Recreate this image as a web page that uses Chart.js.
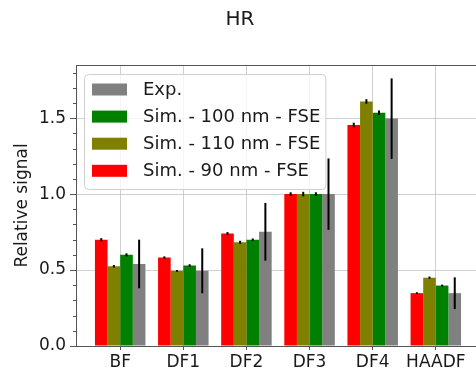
<!DOCTYPE html>
<html>
<head>
<meta charset="utf-8">
<script src="https://cdn.jsdelivr.net/npm/chart.js@4.4.1/dist/chart.umd.min.js"></script>
<style>
  html, body { margin: 0; padding: 0; background: #fff; overflow: hidden; }
</style>
</head>
<body>
<canvas id="chart" width="488" height="374"></canvas>
<script>
// data
const categories = ['BF', 'DF1', 'DF2', 'DF3', 'DF4', 'HAADF'];
const sim90  = [0.700, 0.582, 0.740, 1.000, 1.455, 0.348];
const sim110 = [0.525, 0.495, 0.683, 1.000, 1.610, 0.450];
const sim100 = [0.600, 0.530, 0.700, 1.000, 1.536, 0.398];
const expVals = [0.540, 0.495, 0.752, 1.000, 1.497, 0.348];
const err90  = [0.010, 0.008, 0.010, 0.012, 0.015, 0.006];
const err110 = [0.008, 0.006, 0.010, 0.015, 0.015, 0.007];
const err100 = [0.010, 0.008, 0.008, 0.012, 0.015, 0.006];
const errExp = [0.160, 0.148, 0.190, 0.235, 0.265, 0.104];
const yTicks = [0, 0.5, 1.0, 1.5];

const yMinor = [];
for (let i = 1; i <= 18; i++) if (i % 5 !== 0) yMinor.push(i / 10);

Chart.defaults.font.family = "'DejaVu Sans', sans-serif";
Chart.defaults.color = '#1a1a1a';

const toPts = arr => arr.map((v, i) => ({ x: i, y: v }));

const series = [
  { label: 'Sim. - 90 nm - FSE',  data: sim90,  err: err90,  color: '#ff0000' },
  { label: 'Sim. - 110 nm - FSE', data: sim110, err: err110, color: '#808000' },
  { label: 'Sim. - 100 nm - FSE', data: sim100, err: err100, color: '#008000' },
  { label: 'Exp.',                data: expVals, err: errExp, color: '#808080' }
];

const gridColor = 'rgba(176,176,176,0.6)';
const spineColor = '#555';

// error bars, top spine, minor ticks and the in-axes legend
const extras = {
  id: 'extras',
  afterDraw(chart) {
    const { ctx, chartArea: a, scales: { y } } = chart;
    ctx.save();

    // top spine
    ctx.strokeStyle = spineColor;
    ctx.lineWidth = 1;
    ctx.beginPath();
    ctx.moveTo(a.left, a.top + 0.5);
    ctx.lineTo(a.right, a.top + 0.5);
    ctx.stroke();

    // minor ticks
    ctx.beginPath();
    yMinor.forEach(v => {
      const py = Math.round(y.getPixelForValue(v)) + 0.5;
      ctx.moveTo(a.left - 3, py);
      ctx.lineTo(a.left, py);
    });
    ctx.stroke();

    // error bars
    ctx.strokeStyle = '#000';
    ctx.lineWidth = 2;
    series.forEach((s, di) => {
      chart.getDatasetMeta(di).data.forEach((bar, i) => {
        ctx.beginPath();
        ctx.moveTo(bar.x, y.getPixelForValue(s.data[i] + s.err[i]));
        ctx.lineTo(bar.x, y.getPixelForValue(s.data[i] - s.err[i]));
        ctx.stroke();
      });
    });

    // legend (reverse order, like the reference)
    const items = series.slice().reverse();
    ctx.font = "18px 'DejaVu Sans'";
    const textW = Math.max(...items.map(s => ctx.measureText(s.label).width));
    const bx = a.left + 8, by = a.top + 9;
    const bw = 59 + textW + 5, bh = 115;
    ctx.beginPath();
    ctx.roundRect(bx + 0.5, by + 0.5, bw, bh, 4);
    ctx.fillStyle = 'rgba(255,255,255,0.8)';
    ctx.fill();
    ctx.strokeStyle = '#d0d0d0';
    ctx.lineWidth = 1;
    ctx.stroke();
    ctx.textBaseline = 'middle';
    ctx.textAlign = 'left';
    items.forEach((s, k) => {
      const cy = by + 15.5 + k * 27.1;
      ctx.fillStyle = s.color;
      ctx.fillRect(bx + 8, cy - 6, 35, 12);
      ctx.fillStyle = '#1a1a1a';
      ctx.fillText(s.label, bx + 59, cy + 1);
    });

    ctx.restore();
  }
};

new Chart(document.getElementById('chart'), {
  type: 'bar',
  data: {
    datasets: series.map(s => ({
      label: s.label,
      data: toPts(s.data),
      backgroundColor: s.color,
      borderWidth: 0,
      barPercentage: 1.0,
      categoryPercentage: 0.8
    }))
  },
  options: {
    responsive: false,
    devicePixelRatio: 1,
    animation: false,
    events: [],
    layout: { padding: { left: 0, right: 8, top: 0, bottom: 0 } },
    plugins: {
      legend: { display: false },
      tooltip: { enabled: false },
      title: {
        display: true,
        text: 'HR',
        font: { size: 20, weight: 'normal' },
        color: '#1a1a1a',
        padding: { top: 8, bottom: 33 }
      }
    },
    scales: {
      x: {
        type: 'linear',
        min: -0.7,
        max: 5.7,
        offset: false,
        z: 1,
        afterBuildTicks: s => { s.ticks = categories.map((c, i) => ({ value: i })); },
        afterFit: s => { s.height = 28; },
        ticks: {
          callback: v => categories[v] ?? '',
          autoSkip: false,
          maxRotation: 0,
          padding: 2,
          font: { size: 17 },
          color: '#1a1a1a'
        },
        grid: { offset: false, color: gridColor, tickColor: spineColor, tickLength: 4 },
        border: { color: spineColor, width: 1 }
      },
      y: {
        min: 0,
        max: 1.85,
        z: 1,
        afterBuildTicks: s => { s.ticks = yTicks.map(v => ({ value: v })); },
        afterFit: s => { s.width = 76; },
        ticks: {
          callback: v => v.toFixed(1),
          padding: 4,
          font: { size: 17 },
          color: '#1a1a1a'
        },
        grid: { color: gridColor, tickColor: spineColor, tickLength: 6 },
        border: { color: spineColor, width: 1 },
        title: {
          display: true,
          text: 'Relative signal',
          font: { size: 17 },
          color: '#1a1a1a',
          padding: { top: 12, bottom: 0 }
        }
      }
    }
  },
  plugins: [extras]
});
</script>
</body>
</html>
